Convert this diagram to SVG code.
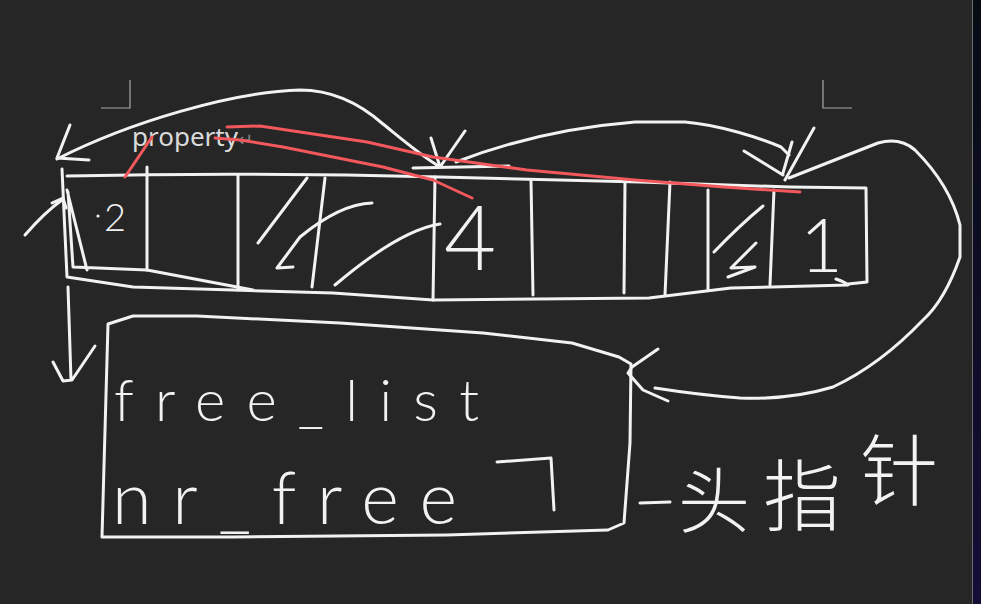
<svg xmlns="http://www.w3.org/2000/svg" width="981" height="604" viewBox="0 0 981 604">
<defs>
<linearGradient id="edge" x1="0" y1="0" x2="0" y2="1">
<stop offset="0" stop-color="#080b14"/>
<stop offset="1" stop-color="#130e36"/>
</linearGradient>
<style>
.s{fill:none;stroke:#f2f2f2;stroke-width:3;stroke-linecap:round;stroke-linejoin:round}
.r{fill:none;stroke:#f2585c;stroke-width:3;stroke-linecap:round;stroke-linejoin:round}
.m{fill:none;stroke:#a8a8a8;stroke-width:1.2}
.hw{font-family:Lato,"Liberation Sans",sans-serif;font-weight:300;fill:#f2f2f2}
.cjk{font-family:"Noto Sans CJK SC","Noto Sans",sans-serif;font-weight:200;fill:#f2f2f2}
</style>
</defs>
<rect width="981" height="604" fill="#262626"/>
<rect x="972" y="0" width="9" height="604" fill="url(#edge)"/>
<line x1="972.5" y1="0" x2="972.5" y2="604" stroke="#6e6e6e" stroke-width="1"/>
<g id="page-marks">
<path class="m" d="M130,80 V108 H101"/>
<path class="m" d="M823,80 V108 H852"/>
</g>
<g id="array">
<path class="s" d="M67,176 Q250,172 440,177 L640,182 L790,187 L866,188 L867,282 L848,284"/>
<path class="s" d="M836,279 Q845,282 848,285 L731,288 L649,298 L433,300 L333,293 L233,290 L133,287 L67,277 L62,169"/>
<path class="s" d="M67,190 L87,270 M68,192 L73,267 L147,270 L253,290"/>
<path class="s" d="M147,167 V270 M238,175 V290 M325,178 L312,287 M435,177 L433,300 M531,180 L533,295 M625,182 L624,293 M670,182 L665,295 M708,190 V290 M774,190 L770,285"/>
<path class="s" d="M307,178 L258,243 M372,203 Q340,204 300,237 L277,268 L293,267 M440,224 Q400,230 335,285 M763,206 Q740,225 714,252 M756,243 L731,268 L755,267 L728,277"/>
<circle cx="98" cy="216" r="1.6" fill="#f2f2f2"/>
<text class="hw" x="104" y="231" font-size="38">2</text>
<text class="hw" x="444" y="270" font-size="90">4</text>
<text class="hw" x="800" y="272" font-size="74">1</text>
</g>
<g id="free-area">
<path class="s" d="M108,324 L133,316 L197,316 L340,323 L483,333 L572,343 L619,357 L631,364 L630,443 L624,523 L608,530 L447,535 L233,537 L102,537 Z"/>
<text class="hw" x="114" y="421" font-size="58" textLength="365" lengthAdjust="spacing">free_list</text>
<text class="hw" x="112" y="524" font-size="72" textLength="345" lengthAdjust="spacing">nr_free</text>
<path class="s" d="M497,462 L551,458 L554,510"/>
</g>
<g id="label-head">
<text class="cjk" x="678" y="527" font-size="72">头</text>
<text class="cjk" x="763" y="525" font-size="78">指</text>
<text class="cjk" x="860" y="500" font-size="78">针</text>
</g>
<g id="label-property">
<text x="132" y="146" font-family="'Noto Sans','DejaVu Sans',sans-serif" font-size="26" fill="#dadada">property<tspan fill="#8a8a8a" font-size="18" font-family="'DejaVu Sans',sans-serif">↵</tspan></text>
</g>
<g id="connectors">
<path class="s" d="M440,167 C420,155 398,136 383,124 C358,102 332,90 300,90 C232,92 130,122 57,159"/>
<path class="s" d="M70,125 L57,158 L89,160"/>
<path class="s" d="M431,138 L440,167 L465,131 M413,168 L509,166"/>
<path class="s" d="M456,162 C500,145 560,128 635,122 L685,122 C720,125 760,138 781,147 L789,155"/>
<path class="s" d="M744,151 L783,175 M814,128 L785,180 M792,142 L783,173"/>
<path class="s" d="M789,178 L878,143 Q900,137 915,150 Q950,185 960,225 L960,257 Q945,300 923,320 Q880,365 833,387 Q790,400 740,398 Q700,395 655,388"/>
<path class="s" d="M658,349 L632,367 L628,373 L643,390 L668,401"/>
<path class="s" d="M25,235 Q45,212 62,200 M52,203 L63,198 L66,208"/>
<path class="s" d="M68,287 L71,380 M53,362 L63,381 L72,380 L95,346"/>
<path class="s" d="M640,503 L670,502"/>
</g>
<g id="highlights">
<path class="r" d="M152,137 L125,177"/>
<path class="r" d="M227,127 L260,126 L300,132 L367,142 L433,157 L527,170 L635,180 L724,187 L800,192"/>
<path class="r" d="M215,138 L240,140 L283,147 L333,157 L383,167 L433,180 L472,198"/>
</g>
</svg>
